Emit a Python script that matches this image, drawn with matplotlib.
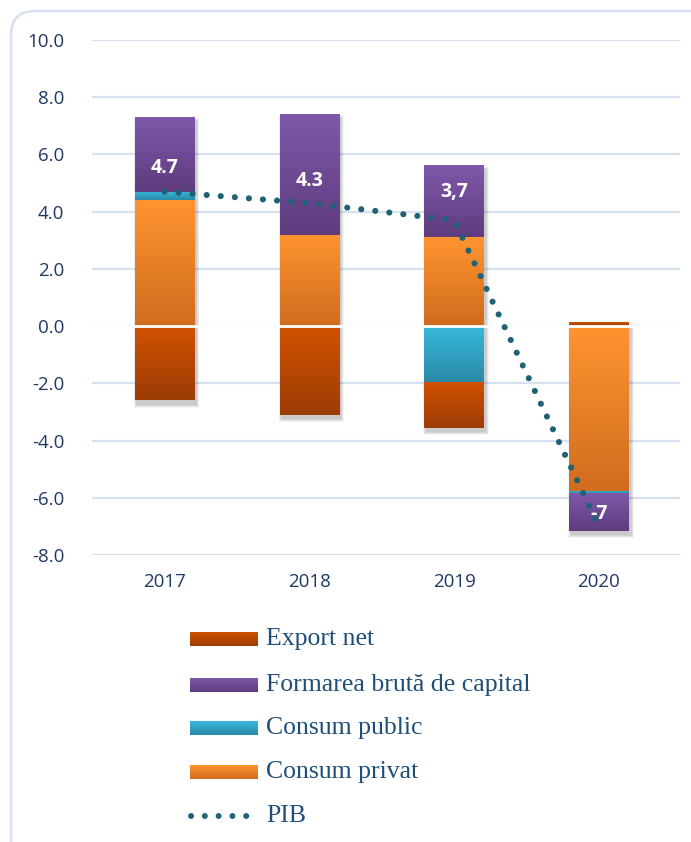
import numpy as np
import matplotlib
matplotlib.use("Agg")
import matplotlib.pyplot as plt
from matplotlib.colors import LinearSegmentedColormap
from matplotlib.patches import FancyBboxPatch, Rectangle

# ---------------- data ----------------
years = ["2017", "2018", "2019", "2020"]
consum_privat = [4.4, 3.2, 3.1, -5.8]
consum_public = [0.3, 0.0, -1.95, -0.05]
formarea_bruta = [2.6, 4.2, 2.5, -1.3]
export_net = [-2.6, -3.1, -1.6, 0.12]
pib = [4.7, 4.3, 3.7, -7.0]
pib_labels = ["4.7", "4.3", "3,7", "-7"]

series_names = ["Consum privat", "Consum public", "Formarea brută de capital", "Export net"]
series_values = [consum_privat, consum_public, formarea_bruta, export_net]
# gradient colours (top, bottom)
series_colors = [("#FF9430", "#CF6C1E"),
                 ("#38B8DC", "#2A8AA6"),
                 ("#7F58AA", "#5E3C7E"),
                 ("#D05200", "#9C3C06")]
pib_color = "#1F6275"
tick_color = "#1F3864"
grid_color = "#D6E1F2"

W, H = 691, 842
fig = plt.figure(figsize=(W / 100, H / 100), dpi=100)
fig.patch.set_facecolor("white")

# rounded border
border = FancyBboxPatch((11 / W, -0.05), (W + 20) / W, 1 - 11 / H + 0.05,
                        boxstyle="round,pad=0,rounding_size=0.035",
                        transform=fig.transFigure, fill=False,
                        edgecolor="#D5E1F3", linewidth=1.8, mutation_aspect=W / H)
fig.patches.append(border)

ax_l, ax_r, ax_t, ax_b = 92, 680, 40, 555
ax = fig.add_axes([ax_l / W, 1 - ax_b / H, (ax_r - ax_l) / W, (ax_b - ax_t) / H])
ax.set_facecolor("none")

x = np.arange(len(years))
bar_w = 0.41

# soft shadows behind each full bar stack
vals_arr = np.array(series_values, dtype=float)
tops = np.where(vals_arr > 0, vals_arr, 0).sum(axis=0)
bots = np.where(vals_arr < 0, vals_arr, 0).sum(axis=0)
px_x = 4.06 / (ax_r - ax_l)   # data units per pixel in x
px_y = 18.0 / (ax_b - ax_t)   # data units per pixel in y
for xi, tp, bt in zip(x, tops, bots):
    for k in range(1, 7):
        ax.add_patch(Rectangle((xi - bar_w / 2 + 2 * px_x - k * px_x * 0.5,
                                bt - 4 * px_y - k * px_y * 0.5),
                               bar_w + k * px_x, (tp - bt) + k * px_y,
                               facecolor="black", alpha=0.035, edgecolor="none",
                               zorder=1.5))

pos_base = np.zeros(len(years))
neg_base = np.zeros(len(years))
for name, vals, (ctop, cbot) in zip(series_names, series_values, series_colors):
    vals = np.array(vals, dtype=float)
    base = np.where(vals >= 0, pos_base, neg_base)
    bars = ax.bar(x, vals, bar_w, bottom=base, color="none", edgecolor="none", zorder=2)
    cmap = LinearSegmentedColormap.from_list(name, [ctop, cbot])
    for p in bars.patches:
        h = p.get_height()
        if abs(h) < 1e-9:
            continue
        x0 = p.get_x(); x1 = x0 + p.get_width()
        y0 = p.get_y(); y1 = y0 + h
        ymin, ymax = min(y0, y1), max(y0, y1)
        grad = np.linspace(0, 1, 256).reshape(-1, 1)
        ax.imshow(grad, cmap=cmap, origin="upper", extent=(x0, x1, ymin, ymax),
                  aspect="auto", zorder=2, interpolation="bilinear")
    pos_base = pos_base + np.where(vals >= 0, vals, 0)
    neg_base = neg_base + np.where(vals < 0, vals, 0)

ax.axhline(0, color="white", lw=2, zorder=3)

# PIB dotted line
ax.plot(x, pib, color=pib_color, lw=4.4, linestyle=(0, (0.01, 2.3)),
        dash_capstyle="round", zorder=4)

offsets = [17, 16, 20, 9]
for xi, v, lab, off in zip(x, pib, pib_labels, offsets):
    ax.annotate(lab, (xi, v), xytext=(0, off), textcoords="offset points",
                ha="center", va="center", color="white", fontsize=14,
                fontweight="bold", family="Open Sans", zorder=5)

ax.set_xlim(-0.5, 3.56)
ax.set_ylim(-8, 10)
ax.set_yticks(np.arange(-8, 10.1, 2))
ax.set_yticklabels([f"{t:.1f}" for t in np.arange(-8, 10.1, 2)])
ax.set_xticks(x)
ax.set_xticklabels(years)
ax.yaxis.grid(True, color=grid_color, lw=1.6, zorder=0)
ax.set_axisbelow(True)
for s in ax.spines.values():
    s.set_visible(False)
ax.tick_params(axis="both", length=0, colors=tick_color, labelsize=13.5)
ax.tick_params(axis="y", pad=20)
ax.tick_params(axis="x", pad=13)
for t in ax.get_xticklabels() + ax.get_yticklabels():
    t.set_fontfamily("Open Sans")

# legend (manual, with gradient swatches)
lg = fig.add_axes([0, 0, 1, 1], facecolor="none")
lg.set_xlim(0, W); lg.set_ylim(H, 0); lg.axis("off")
rows_y = [639, 685, 728, 772]
order = [3, 2, 1, 0]
for ry, idx in zip(rows_y, order):
    ctop, cbot = series_colors[idx]
    cmap = LinearSegmentedColormap.from_list("lg%d" % idx, [ctop, cbot])
    grad = np.linspace(0, 1, 64).reshape(-1, 1)
    lg.imshow(grad, cmap=cmap, origin="upper", extent=(190, 258, ry + 7, ry - 7),
              aspect="auto", interpolation="bilinear")
    lg.text(266, ry, series_names[idx], va="center", ha="left", fontsize=18.5,
            family="Liberation Serif", color="#1F4E79")
ry = 816
lg.plot([191, 248], [ry, ry], color=pib_color, lw=4.3, linestyle=(0, (0.01, 2.3)),
        dash_capstyle="round")
lg.text(266, ry, "PIB", va="center", ha="left", fontsize=18.5,
        family="Liberation Serif", color="#1F4E79")
lg.set_xlim(0, W); lg.set_ylim(H, 0)

fig.savefig("out.png", dpi=100)
